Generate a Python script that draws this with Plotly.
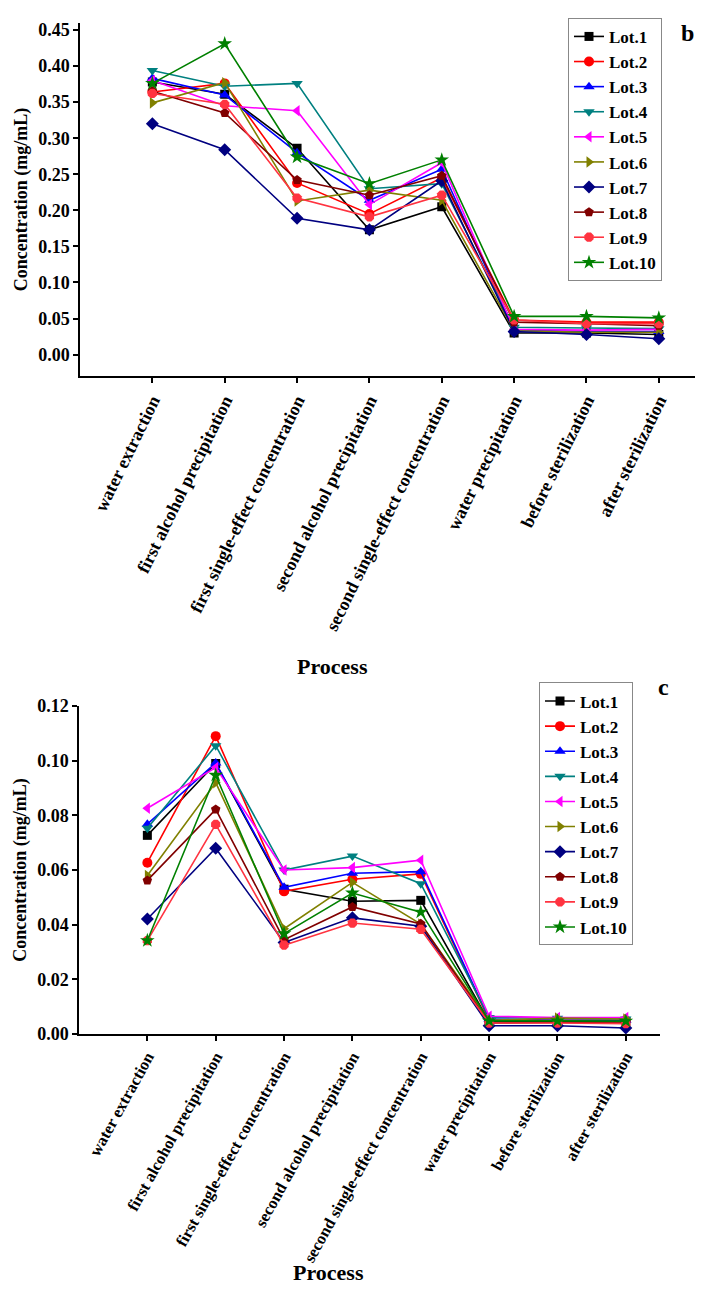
import plotly.graph_objects as go

processes = ["water extraction", "first alcohol precipitation", "first single-effect concentration",
             "second alcohol precipitation", "second single-effect concentration", "water precipitation",
             "before sterilization", "after sterilization"]
lots = ["Lot.1", "Lot.2", "Lot.3", "Lot.4", "Lot.5", "Lot.6", "Lot.7", "Lot.8", "Lot.9", "Lot.10"]

# panel b
b_lot1 = [0.378, 0.361, 0.286, 0.173, 0.205, 0.030, 0.030, 0.028]
b_lot2 = [0.364, 0.376, 0.238, 0.195, 0.245, 0.048, 0.045, 0.045]
b_lot3 = [0.383, 0.360, 0.280, 0.214, 0.257, 0.034, 0.032, 0.032]
b_lot4 = [0.394, 0.372, 0.376, 0.230, 0.237, 0.038, 0.037, 0.036]
b_lot5 = [0.380, 0.345, 0.338, 0.208, 0.266, 0.035, 0.034, 0.035]
b_lot6 = [0.349, 0.377, 0.213, 0.228, 0.214, 0.033, 0.031, 0.031]
b_lot7 = [0.320, 0.284, 0.189, 0.173, 0.241, 0.032, 0.028, 0.022]
b_lot8 = [0.365, 0.335, 0.242, 0.221, 0.248, 0.045, 0.043, 0.040]
b_lot9 = [0.362, 0.347, 0.217, 0.191, 0.221, 0.048, 0.043, 0.043]
b_lot10 = [0.376, 0.431, 0.274, 0.237, 0.270, 0.053, 0.053, 0.051]

# panel c
c_lot1 = [0.0727, 0.0990, 0.0530, 0.0486, 0.0489, 0.0045, 0.0045, 0.0045]
c_lot2 = [0.0627, 0.1090, 0.0522, 0.0566, 0.0586, 0.0050, 0.0050, 0.0050]
c_lot3 = [0.0768, 0.0992, 0.0537, 0.0588, 0.0594, 0.0055, 0.0050, 0.0050]
c_lot4 = [0.0753, 0.1055, 0.0600, 0.0651, 0.0550, 0.0060, 0.0058, 0.0055]
c_lot5 = [0.0826, 0.0975, 0.0600, 0.0609, 0.0636, 0.0065, 0.0060, 0.0060]
c_lot6 = [0.0580, 0.0920, 0.0385, 0.0555, 0.0402, 0.0050, 0.0058, 0.0055]
c_lot7 = [0.0421, 0.0680, 0.0335, 0.0425, 0.0394, 0.0030, 0.0030, 0.0022]
c_lot8 = [0.0562, 0.0822, 0.0345, 0.0465, 0.0403, 0.0040, 0.0042, 0.0040]
c_lot9 = [0.0342, 0.0767, 0.0325, 0.0406, 0.0383, 0.0040, 0.0040, 0.0038]
c_lot10 = [0.0342, 0.0947, 0.0367, 0.0516, 0.0446, 0.0048, 0.0048, 0.0047]

b_data = [b_lot1, b_lot2, b_lot3, b_lot4, b_lot5, b_lot6, b_lot7, b_lot8, b_lot9, b_lot10]
c_data = [c_lot1, c_lot2, c_lot3, c_lot4, c_lot5, c_lot6, c_lot7, c_lot8, c_lot9, c_lot10]

colors = ["#000000", "#FF0000", "#0000FF", "#008080", "#FF00FF", "#808000", "#000080", "#800000", "#FF3340", "#008000"]
symbols = ["square", "circle", "triangle-up", "triangle-down", "triangle-left", "triangle-right",
           "diamond", "pentagon", "octagon", "star"]
sizes = [9, 10, 10, 10, 10, 10, 10, 10, 10, 11]

FONT = "Liberation Serif"
fig = go.Figure()

for i, name in enumerate(lots):
    fig.add_trace(go.Scatter(x=processes, y=b_data[i], name=name, mode="lines+markers",
                             line=dict(color=colors[i], width=1.6),
                             marker=dict(symbol=symbols[i], size=sizes[i], color=colors[i]),
                             xaxis="x", yaxis="y", legend="legend"))
for i, name in enumerate(lots):
    fig.add_trace(go.Scatter(x=processes, y=c_data[i], name=name, mode="lines+markers",
                             line=dict(color=colors[i], width=1.6),
                             marker=dict(symbol=symbols[i], size=sizes[i], color=colors[i]),
                             xaxis="x2", yaxis="y2", legend="legend2"))

W, H = 704, 1298
def px(x): return x / W
def py(y): return 1 - y / H

def axis_common(size):
    return dict(showline=True, linecolor="black", linewidth=1.5, ticks="outside", ticklen=5,
                tickwidth=1.5, tickcolor="black", showgrid=False, zeroline=False,
                tickfont=dict(family=FONT, size=size, color="black", weight="bold"))

ytitle = dict(text="Concentration (mg/mL)", font=dict(family=FONT, size=18, weight="bold"), standoff=6)

def note(text, x, y, size):
    return dict(text=text, x=px(x), y=py(y), xref="paper", yref="paper", showarrow=False,
                xanchor="center", yanchor="middle", font=dict(family=FONT, size=size, weight="bold"))

fig.update_layout(
    width=W, height=H, margin=dict(l=0, r=0, t=0, b=0),
    paper_bgcolor="white", plot_bgcolor="white",
    font=dict(family=FONT, color="black"),
    xaxis=dict(domain=[px(80), px(695)], anchor="y", type="category", range=[-1, 7.5],
               tickangle=-64, **axis_common(18)),
    yaxis=dict(domain=[py(372), py(13)], anchor="x", range=[-0.03, 0.46], tickvals=[i * 0.05 for i in range(10)],
               tickformat=".2f", title=ytitle, **axis_common(18)),
    xaxis2=dict(domain=[px(79), px(660)], anchor="y2", type="category", range=[-1, 7.5],
                tickangle=-61, **axis_common(16.5)),
    yaxis2=dict(domain=[py(1040), py(707)], anchor="x2", range=[0, 0.12], tickvals=[i * 0.02 for i in range(7)],
                tickformat=".2f", title=ytitle, **axis_common(18)),
    legend=dict(x=px(568), y=py(8), xanchor="left", yanchor="top", bgcolor="white",
                bordercolor="#888888", borderwidth=1, tracegroupgap=0,
                font=dict(family=FONT, size=17, color="black", weight="bold")),
    legend2=dict(x=px(539), y=py(683), xanchor="left", yanchor="top", bgcolor="white",
                 bordercolor="#888888", borderwidth=1, tracegroupgap=0,
                 font=dict(family=FONT, size=17, color="black", weight="bold")),
    annotations=[
        note("Process", 332, 667, 22),
        note("Process", 328, 1282, 22),
        note("b", 687, 23, 24),
        note("c", 663, 688, 24),
    ],
)

fig.write_html("out.html", config={"displayModeBar": False},
               post_script="document.body.style.margin='0';document.body.style.overflow='hidden';")
